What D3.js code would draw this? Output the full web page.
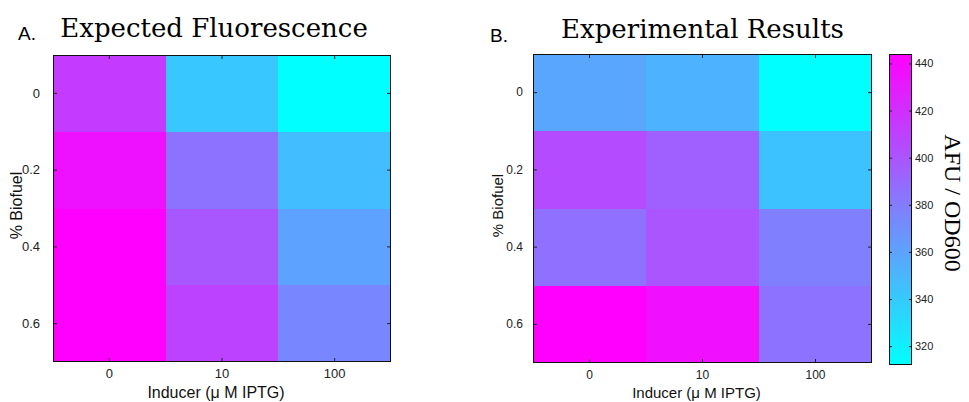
<!DOCTYPE html>
<html>
<head>
<meta charset="utf-8">
<script src="https://cdn.jsdelivr.net/npm/d3@7"></script>
<style>
  html, body { margin: 0; padding: 0; background: #fff; }
  svg { display: block; }
</style>
</head>
<body>
<svg id="chart" width="969" height="402"></svg>
<script>
// Inducer concentrations (columns) and biofuel fractions (rows)
const inducer = [0, 10, 100];
const biofuel = [0, 0.2, 0.4, 0.6];

// Predicted fluorescence, one row per biofuel level
const expectedFluor = [
  [414, 341, 312],
  [435, 385, 346],
  [444, 399, 360],
  [444, 410, 374]
];

// Measured fluorescence (AFU / OD600), one row per biofuel level
const measuredFluor = [
  [358, 352, 312],
  [405, 395, 343],
  [386, 400, 378],
  [444, 436, 385]
];

const colorbarTicks = [320, 340, 360, 380, 400, 420, 440];

const svg = d3.select("#chart");
const cool = d3.interpolateRgb("#00ffff", "#ff00ff");
const SANS = "'Liberation Sans', Arial, Helvetica, sans-serif";
const SANS_NARROW = "'Liberation Sans Narrow', 'Liberation Sans', Arial, sans-serif";

function heatmap(box, values, o) {
  const g = svg.append("g");
  const x = d3.scaleBand().domain(inducer).range([box.x0, box.x1]);
  const y = d3.scaleBand().domain(biofuel).range([box.y0, box.y1]);
  const color = d3.scaleSequential(cool).domain(d3.extent(values.flat()));

  const cells = [];
  biofuel.forEach((b, i) => inducer.forEach((c, j) => cells.push({ b, c, v: values[i][j] })));

  g.append("g").selectAll("rect").data(cells).join("rect")
    .attr("x", d => x(d.c))
    .attr("y", d => y(d.b))
    .attr("width", x.bandwidth())
    .attr("height", y.bandwidth())
    .attr("fill", d => color(d.v))
    .attr("shape-rendering", "crispEdges");

  const styleAxis = (sel, size) => {
    sel.select(".domain").remove();
    sel.selectAll(".tick line").attr("stroke", "#222");
    sel.selectAll(".tick text")
      .attr("fill", "#222")
      .style("font-family", SANS_NARROW)
      .style("font-size", size + "px");
  };

  g.append("g").attr("transform", `translate(${box.x0},0)`)
    .call(d3.axisLeft(y).tickSize(-4).tickSizeOuter(0).tickPadding(o.yPad).tickFormat(d => d))
    .call(s => styleAxis(s, o.tickSize));
  g.append("g").attr("transform", `translate(${box.x1},0)`)
    .call(d3.axisRight(y).tickSize(-4).tickSizeOuter(0).tickFormat(""))
    .call(s => styleAxis(s, o.tickSize));
  g.append("g").attr("transform", `translate(0,${box.y1})`)
    .call(d3.axisBottom(x).tickSize(-4).tickSizeOuter(0).tickPadding(o.xPad).tickFormat(d => d))
    .call(s => styleAxis(s, o.tickSize));
  g.append("g").attr("transform", `translate(0,${box.y0})`)
    .call(d3.axisTop(x).tickSize(-4).tickSizeOuter(0).tickFormat(""))
    .call(s => styleAxis(s, o.tickSize));

  g.append("rect")
    .attr("x", box.x0 + 0.5).attr("y", box.y0 + 0.5)
    .attr("width", box.x1 - box.x0 - 1).attr("height", box.y1 - box.y0 - 1)
    .attr("fill", "none").attr("stroke", "#111").attr("stroke-width", 1);

  const cx = (box.x0 + box.x1) / 2, cy = (box.y0 + box.y1) / 2;

  g.append("text")
    .attr("transform", `translate(${o.yLabelX},${cy - 3}) rotate(-90)`)
    .attr("text-anchor", "middle")
    .style("font-family", SANS).style("font-size", o.labelSize + "px")
    .attr("fill", "#111")
    .text("% Biofuel");

  g.append("text")
    .attr("x", cx - 6).attr("y", 398)
    .attr("text-anchor", "middle")
    .style("font-family", SANS).style("font-size", o.labelSize + "px")
    .attr("fill", "#111")
    .text("Inducer (\u03bc M IPTG)");

  g.append("text")
    .attr("x", cx + o.titleDx).attr("y", o.titleY)
    .attr("text-anchor", "middle")
    .style("font-family", "'DejaVu Serif', serif").style("font-size", "26px")
    .attr("fill", "#000")
    .text(o.title);

  g.append("text")
    .attr("x", o.letterX).attr("y", o.letterY)
    .style("font-family", SANS).style("font-size", "19px")
    .attr("fill", "#000")
    .text(o.letter);

  return color;
}

heatmap({ x0: 53, x1: 391, y0: 55, y1: 362 }, expectedFluor, {
  yPad: 13, xPad: 7, tickSize: 13, labelSize: 16, yLabelX: 22,
  title: "Expected Fluorescence", titleDx: -8, titleY: 37,
  letter: "A.", letterX: 18, letterY: 40
});

const measuredColor = heatmap({ x0: 533, x1: 872, y0: 54, y1: 363 }, measuredFluor, {
  yPad: 10, xPad: 7, tickSize: 12, labelSize: 15, yLabelX: 503,
  title: "Experimental Results", titleDx: 0, titleY: 38,
  letter: "B.", letterX: 490, letterY: 42
});

// Colour bar for the measured panel
const cb = { x0: 889, x1: 912, y0: 54, y1: 365 };
const cbScale = d3.scaleLinear().domain(measuredColor.domain()).range([cb.y1, cb.y0]);

const defs = svg.append("defs");
const grad = defs.append("linearGradient")
  .attr("id", "cbGrad").attr("x1", 0).attr("y1", 1).attr("x2", 0).attr("y2", 0);
d3.range(0, 1.0001, 0.1).forEach(t => {
  grad.append("stop").attr("offset", t).attr("stop-color", cool(t));
});

svg.append("rect")
  .attr("x", cb.x0).attr("y", cb.y0)
  .attr("width", cb.x1 - cb.x0).attr("height", cb.y1 - cb.y0)
  .attr("fill", "url(#cbGrad)");

const cbRight = svg.append("g").attr("transform", `translate(${cb.x1},0)`)
  .call(d3.axisRight(cbScale).tickValues(colorbarTicks).tickSize(-3).tickSizeOuter(0).tickPadding(3));
cbRight.select(".domain").remove();
cbRight.selectAll(".tick line").attr("stroke", "#222");
cbRight.selectAll(".tick text").attr("fill", "#222")
  .style("font-family", SANS).style("font-size", "11px");

const cbLeft = svg.append("g").attr("transform", `translate(${cb.x0},0)`)
  .call(d3.axisLeft(cbScale).tickValues(colorbarTicks).tickSize(-3).tickSizeOuter(0).tickFormat(""));
cbLeft.select(".domain").remove();
cbLeft.selectAll(".tick line").attr("stroke", "#222");

svg.append("rect")
  .attr("x", cb.x0 + 0.5).attr("y", cb.y0 + 0.5)
  .attr("width", cb.x1 - cb.x0 - 1).attr("height", cb.y1 - cb.y0 - 1)
  .attr("fill", "none").attr("stroke", "#111");

svg.append("text")
  .attr("transform", "translate(945,203) rotate(90)")
  .attr("text-anchor", "middle")
  .style("font-family", "'Liberation Serif', 'Times New Roman', serif")
  .style("font-size", "24px")
  .attr("fill", "#000")
  .text("AFU / OD600");
</script>
</body>
</html>
